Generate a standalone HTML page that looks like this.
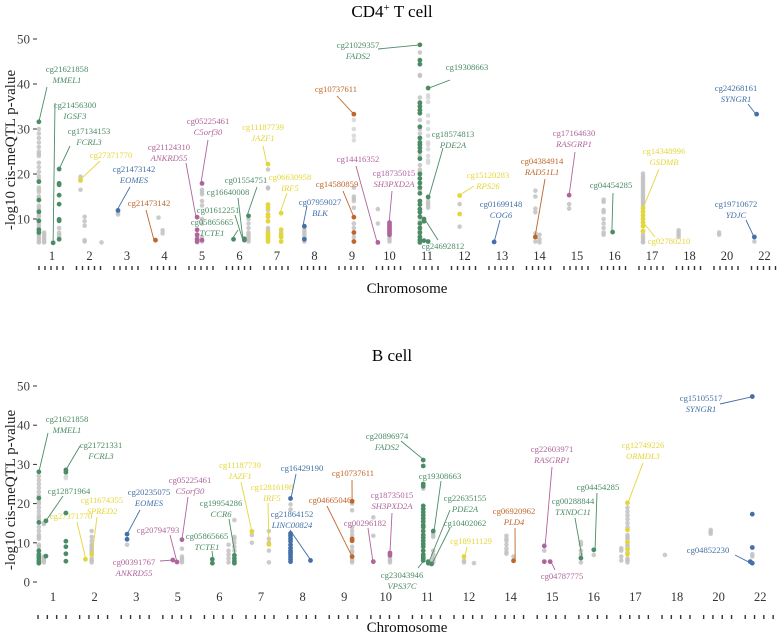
<!DOCTYPE html>
<html><head><meta charset="utf-8"><style>
html,body{margin:0;padding:0;background:#fff;}
svg{display:block;font-family:"Liberation Serif",serif;}
</style></head><body>
<svg id="chart" width="778" height="635" viewBox="0 0 778 635" xmlns="http://www.w3.org/2000/svg">
<text x="392" y="17" text-anchor="middle" font-size="17">CD4<tspan baseline-shift="super" font-size="11">+</tspan> T cell</text>
<text x="392" y="361" text-anchor="middle" font-size="17">B cell</text>
<g id="top"></g>
<g id="bot"></g>
</svg>
<script>
const COLORS = {g:'#4b8c66', b:'#4370a8', o:'#c0662a', p:'#b0649b', y:'#e4d63a'};
// ---- CD4 T cell data ----
const topChromLabels = ['1','2','3','4','5','6','7','8','9','10','11','12','13','14','15','16','17','18','20','22'];
const topSlot = [0,0,0,0,1,1,1,2,3,3,3,4,4,5,5,5,6,6,7,8,8,9,10,10,10,11,12,13,13,14,15,15,16,17,18,19,19];
const topOff = [-0.35,-0.21,0.03,0.19,-0.24,-0.13,0.32,-0.24,-0.24,-0.16,-0.05,-0.13,0,-0.16,0.13,0.24,-0.24,0.11,-0.27,0.05,0.69,0,-0.19,0.03,-0.08,-0.13,-0.21,-0.11,0,-0.21,-0.29,-0.05,-0.24,-0.29,-0.21,-0.21,-0.27];
const topGray = [
[30,29,28,27,26,25,24.5,24,22.5,21.5,20.5,19.5,18.8,17,16.5,16,15,14.8,13,12.5,12,11,10.5,9,8.5,8,6.5,6,5.5,5,4.8],
[7,6.5,6,5.5,5,4.8],[],[8,7,6.5,6],
[19.4,18.5,16.5],[10.5,9.5,8.5,5.3,5],[4.8],[11.3,11],
[],[10.3],[7.5,6.8],[6,4.8],[16.5,16,15.5,14,13,10,9,6,5],
[],[],[10,9,8,7,6.5,6,5.5,5],
[21,17,16.8,12,8,7.5],[7],[8,7.5,7,6.5,6,5],
[32,30,28.5,27.5,17,15,14.5,14,12.5,9,8,6],[12.2,9],[6,5.5,5],
[47,42,41.8,37,36,32,30,29,24,22,21,20.5,16.5,9.5,7.5,6.5,5.5],
[37.5,37,36,33,31.5,30,28.5,27,26.5,25.5,24,23,22.5,14,13.5,13,12.5],[],
[13.3,8.3],[],[16.3,15,12.3,11.5,6.8,5],[6.5,5.5,4.8],[13.3,12.3],
[14.3,13.8,12,11.5,10,9,8,7,6.5],[],
[20.1,19.5,19,18.5,18,17.5,17,16.5,16,15.5,15,14.5,14,13.5,13,6.5,6,5.5,5,4.8],
[7.5,7,6.5,6],[7,6.5],[],[5]];
const topHi = [
[31.6,18.3,14.2,11.6,9.6,7.6,7],[],[4.7],[21.1,17.9,17.6,15.3,13.3,9.9,9.6,5.5],
[18.7],[],[],[11.9],
[5.3],[],[],[10.4,7.6,6.5,5.5,5],[17.9,5.3],
[5.5],[5.3,5.6],[10.7],
[22.2,13.2,12.5,11,10.5,9.5,7,6.5,6,5.5,5],[11.3,7.6,6.5,6,5],[8.4,5.5],
[33.3,10.4,7,5],[4.8],[9.2,8.8,8.4,8,7.6,7.2,6.8,6.5],
[48.7,45.3,44.4,35.8,35,34.2,33.5,30.5,28,27,26.5,25.8,25,23.4,20,19,18,17,15.7,14,13.2,12.2,11.5,10.5,9,8,7,6,5.3,4.8],
[39.1,14.9,5],[10,9.5,5.2],
[15.2,11.1],[4.9],[6],[],[15.3],
[],[7.1],
[12.4,11.6,10.8,10,9.2,8.4,7.3],
[],[],[33.3],[6]];
const topHiColor = ['g','g','g','g','y','y','y','b','o','o','o','p','p','g','g','g','y','y','b','o','p','p','g','g','g','y','b','o','o','p','g','g','y','y','y','b','b'];
const topTicks = [10,20,30,40,50];

// ---- B cell data ----
const botChromLabels = ['1','2','3','5','6','7','8','9','10','11','12','14','15','16','17','18','20','22'];
const botSlot = [0,0,0,0,1,1,2,3,3,3,4,4,4,5,5,6,6,7,7,8,9,9,9,9,10,10,11,11,12,12,13,13,14,14,15,16,17,17];
const botOff = [-0.34,-0.22,-0.17,0.31,-0.22,-0.07,-0.22,-0.12,-0.02,0.1,-0.17,0.22,0.36,-0.22,0.19,-0.29,0.19,0.19,0.7,0.1,-0.1,0.02,0.1,0.14,-0.12,0.12,-0.1,0.07,-0.19,-0.05,-0.31,0,-0.34,-0.19,-0.29,-0.19,-0.19,-0.24];
const botGray = [
[27,26,25,24,23,22,20.5,20,19,18,17,16.5,16,14,13,12,11.5,11,9.5,9,7.5,7,5.5],
[15,14.8,6.5,6,5.5,5],[],[27,26.5],
[],[13,11.5,10.5,9.5,9,8.5,8,7.5,6,5.5,5],[9.5],
[],[],[8.5,6.5,6,5.5,5],
[],[9.5,8,7,6,5],[15.8,11.5,11,10,9,8],
[12,10],[13,11,10,8,5],
[19.8,18.5,12,11.4],[],
[20,18.3,14,13,12,9,8,7.5,6,5.5,5],[16.5,11.8],[6,5.5,5],
[23.8],[],[],[12.5,12,11.5,8,7,6,5.5,5],
[5.5,5],[4.8],[11.8,11,10.5,9.5,8.5,7.7,7.2],[6.5],
[8],[],[10.2,9.5,8,7,5],[6.9],
[8.6,8,6.5,5.5],[19,18,17,16,15,14,12,11.5,11,9.5,9,7.5,6,5.5,5],
[6.9],[13.3,12.8,12.3],[7.1,6.5],[]];
const botHi = [
[28.1,21.4,15.2,8,7,6.5,6,5.3,4.8],[],[15.6,6.6],[28.6,28,17.6,10.4,9,7.2,5.3],
[5.8],[7],[12.2,10.9],
[5.6],[5.1],[10.8],
[5.8,4.8],[],[6.8,6,5.3,4.8],
[12.9],[9.6],
[21.3,12.4,11.8,11,10.4,9.5,8.7,8,7.5,7,6.4,5.8,5.2],[5.5],
[20.6,11,10.5,6.5],[5.2],[7.4,6.8],
[31.1,29.6,25,24.4,19.4,18.6,17.8,17,16.2,15.4,14.5,14,13,12,11.3,10.5,9.7,9,8,7,6.5,6,5.5],[5.2,4.8],[4.6],[13],
[6.5],[],[],[5.4],
[9.2,5.2],[5.2],[6.1],[8.2],
[],[20.2,13.3,10.2,8.4,7.1],
[],[],[47.3,17.3,8.8,4.8],[5.2]];
const botHiColor = ['g','g','g','g','y','y','b','p','p','p','g','g','g','y','y','b','b','o','p','p','g','g','g','g','y','y','o','o','p','p','g','g','y','y','y','b','b','b'];
const botTicks = [0,10,20,30,40,50];

// annotations: [id, gene, colorKey, textX, textY, lineX, lineY, endDataX, endDataY]
const topAnn = [
['cg21621858','MMEL1','g',67,72,47,87,-0.35,31.6],
['cg21456300','IGSF3','g',75,108,55,103,0.03,4.7],
['cg17134153','FCRL3','g',89,134,70,146,0.19,21.1],
['cg27371770','','y',111,158,100,161,0.75,18.7],
['cg21473142','EOMES','b',134,172,130,187,1.73,11.9],
['cg21473142','','o',149,206,146,210,2.72,5.3],
['cg21124310','ANKRD55','p',169,150,186,163,3.84,10.4],
['cg05225461','C5orf30','p',208,124,208,140,3.97,17.9],
['cg11187739','JAZF1','y',263,130,263,146,5.73,22.2],
['cg01554751','','g',246,183,257,187,5.2,10.7],
['cg16640008','','g',228,195,238,198,5.09,5.6],
['cg01612251','','g',218,213,235,215,5.09,5.3],
['cg05865665','TCTE1','g',212,225,238,230,4.8,5.5],
['cg06630958','IRF5','y',290,180,287,193,6.08,11.3],
['cg07959027','BLK','b',320,205,307,206,6.69,8.4],
['cg14580859','','o',337,187,343,191,8.05,10.4],
['cg10737611','','o',336,92,337,96,8.05,33.3],
['cg21029357','FADS2','g',358,48,378,49,9.84,48.7],
['cg14416352','','p',358,162,356,166,8.67,4.8],
['cg18735015','SH3PXD2A','p',394,176,392,191,8.99,9.2],
['cg19308663','','g',467,70,450,80,10.05,39.1],
['cg18574813','PDE2A','g',453,137,443,148,10.05,14.9],
['cg24692812','','g',443,249,438,240,9.95,9.8],
['cg15120283','RPS26','y',488,178,474,186,10.85,15.2],
['cg01699148','COG6','b',501,207,500,220,11.79,4.9],
['cg04384914','RAD51L1','o',542,164,545,179,12.88,6],
['cg17164630','RASGRP1','p',574,136,575,152,13.79,15.3],
['cg14348996','GSDMB','y',664,154,659,169,15.76,12.4],
['cg04454285','','g',611,188,613,193,14.93,7.1],
['cg02780210','','y',669,244,655,237,15.81,8.8],
['cg24268161','SYNGR1','b',736,91,748,104,18.77,33.3],
['cg19710672','YDJC','b',736,207,746,220,18.72,6]];
const botAnn = [
['cg21621858','MMEL1','g',67,422,48,433,-0.34,28.1],
['cg21721331','FCRL3','g',101,448,80,446,0.31,28.6],
['cg12871964','','g',69,494,63,496,-0.17,15.6],
['cg11674355','SPRED2','y',102,503,97,517,0.94,7],
['cg27371770','','y',71,519,77,522,0.79,5.8],
['cg20235075','EOMES','b',149,495,140,510,1.78,12.2],
['cg05225461','C5orf30','p',190,483,188,497,3.1,10.8],
['cg20794793','','p',158,533,170,535,2.98,5.1],
['cg00391767','ANKRD55','p',134,565,160,561,2.88,5.6],
['cg19954286','CCR6','g',221,506,229,519,4.38,6.8],
['cg05865665','TCTE1','g',207,539,212,551,3.85,5.8],
['cg11187739','JAZF1','y',240,468,241,482,4.78,12.9],
['cg12816198','IRF5','y',272,490,268,503,5.19,9.6],
['cg16429190','','b',302,471,296,474,5.72,21.3],
['cg21864152','LINC00824','b',292,517,290,530,6.2,5.5],
['cg10737611','','o',353,476,352,480,7.19,20.6],
['cg04665046','','o',330,503,327,506,7.19,6.5],
['cg00296182','','p',365,526,368,528,7.69,5.2],
['cg18735015','SH3PXD2A','p',392,498,392,513,8.1,7.4],
['cg20896974','FADS2','g',387,439,401,441,8.92,31.1],
['cg19308663','','g',440,479,441,481,9.16,13],
['cg22635155','PDE2A','g',465,501,450,510,9.04,5.2],
['cg10402062','','g',465,526,450,528,9.11,4.6],
['cg23043946','VPS37C','g',402,578,418,568,8.92,5.5],
['cg18911129','','y',471,544,467,547,9.9,6.5],
['cg06920962','PLD4','o',514,514,515,528,11.11,5.4],
['cg22603971','RASGRP1','p',552,452,552,467,11.83,9.2],
['cg04787775','','p',562,579,555,570,11.97,5.2],
['cg00288844','TXNDC11','g',573,504,575,518,12.72,6.1],
['cg04454285','','g',598,490,597,493,13.03,8.2],
['cg12749226','ORMDL3','y',643,448,643,463,13.82,20.2],
['cg15105517','SYNGR1','b',701,401,720,404,16.83,47.3],
['cg04852230','','b',708,553,735,555,16.78,4.8]];

const NS='http://www.w3.org/2000/svg';
function mk(parent, tag, attrs, txt){const e=document.createElementNS(NS,tag);for(const k in attrs)e.setAttribute(k,attrs[k]);if(txt!==undefined)e.textContent=txt;parent.appendChild(e);return e;}

function drawPanel(g, cfg){
  const xS = v => cfg.x0 + v*cfg.dx;
  const yS = v => cfg.y0 - v*cfg.ky;
  const ttl = mk(g,'text',{x:0,y:0,transform:`translate(15,${cfg.titleY}) rotate(-90)`,'text-anchor':'middle','font-size':15,fill:'#222'},'-log10 cis-meQTL p-value');
  
  
  cfg.ticks.forEach(t=>{
    const l=mk(g,'text',{x:30,y:yS(t)+4.5,'text-anchor':'end','font-size':13,fill:'#444'},String(t));
    
    
    const m=mk(g,'line',{x1:33,x2:37,y1:yS(t),y2:yS(t),stroke:'#333','stroke-width':1});
    
    
  });
  cfg.chroms.forEach((c,i)=>{
    const cx=xS(i);
    const l=mk(g,'text',{x:cx,y:cfg.labY,'text-anchor':'middle','font-size':12.5,fill:'#333'},c);
    
    
    for(let k=0;k<cfg.nd;k++){
      const px=cx+(k-(cfg.nd-1)/2)*cfg.dsp-1;
      const d=mk(g,'line',{x1:px,x2:px,y1:cfg.dashY,y2:cfg.dashY+4,stroke:'#333','stroke-width':1.4});
      
      
    }
  });
  const xt=mk(g,'text',{x:407,y:cfg.xtY,'text-anchor':'middle','font-size':15,fill:'#111'},'Chromosome');
  
  
  cfg.slot.forEach((s,i)=>{
    cfg.gray[i].forEach(v=>{
      const c=mk(g,'circle',{cx:xS(s+cfg.off[i]),cy:yS(v),r:2.3,fill:v>20&&i%2?'#d6d6d6':'#c2c2c2','fill-opacity':0.85});
      
      
    });
  });
  cfg.ann.forEach(a=>{
    const col=COLORS[a[2]];
    const ln=mk(g,'line',{x1:a[5],y1:a[6],x2:xS(a[7]),y2:yS(a[8]),stroke:col,'stroke-width':0.9});
    
    
    const t=mk(g,'text',{x:a[3],y:a[4],'text-anchor':'middle','font-size':8.6,fill:col},a[0]);
    
    
    if(a[1]){
      const t2=mk(g,'text',{x:a[3],y:a[4]+11,'text-anchor':'middle','font-size':8.6,'font-style':'italic',fill:col},a[1]);
      
      
    }
  });
  cfg.slot.forEach((s,i)=>{
    cfg.hi[i].forEach(v=>{
      const c=mk(g,'circle',{cx:xS(s+cfg.off[i]),cy:yS(v),r:2.4,fill:COLORS[cfg.hiColor[i]]});
      
      
    });
  });
}
drawPanel(document.getElementById('top'),{x0:52,dx:37.5,y0:264,ky:4.5,ticks:topTicks,chroms:topChromLabels,labY:260,dashY:266,nd:5,dsp:6,xtY:293,titleY:150,slot:topSlot,off:topOff,gray:topGray,hi:topHi,hiColor:topHiColor,ann:topAnn});
drawPanel(document.getElementById('bot'),{x0:53,dx:41.6,y0:582,ky:3.92,ticks:botTicks,chroms:botChromLabels,labY:601,dashY:615,nd:4,dsp:9.3,xtY:632,titleY:490,slot:botSlot,off:botOff,gray:botGray,hi:botHi,hiColor:botHiColor,ann:botAnn});
</script>
</body></html>
